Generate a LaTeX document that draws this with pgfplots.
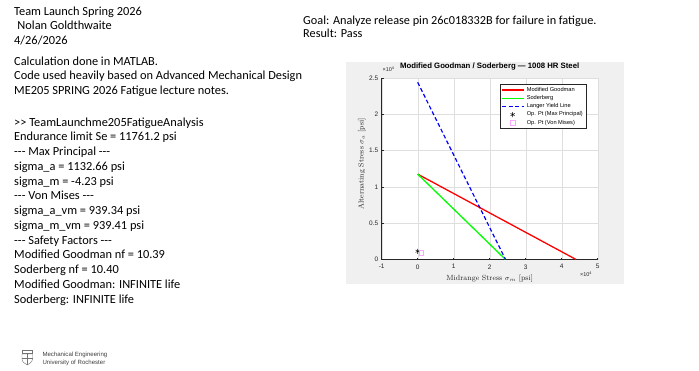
\documentclass[border=0pt]{standalone}
\usepackage{pgfplots}
\pgfplotsset{compat=1.18}
\usepackage{fontspec}
\newfontfamily\carlito{Carlito}
\newfontfamily\arial{Liberation Sans}
\definecolor{mgreen}{rgb}{0,1,0}
\definecolor{figbg}{rgb}{0.94,0.94,0.94}
\definecolor{axgray}{rgb}{0.15,0.15,0.15}
\definecolor{ptpink}{rgb}{1,0.65,1}
\pgfplotsset{
  lineleg/.style={legend image code/.code={\draw[##1] (0bp,0bp) -- (22bp,0bp);}},
  markleg/.style={legend image code/.code={\draw[mark repeat=2,mark phase=2,##1] plot coordinates {(0bp,0bp)(10.5bp,0bp)(21bp,0bp)};}},
}
\begin{document}
\begin{tikzpicture}
\path[fill=white,use as bounding box] (0,0) rectangle (699bp,-371bp);
% ---- slide text ----
\begin{scope}[every node/.style={anchor=base west,inner sep=0pt,font=\carlito\fontsize{12.4}{14}\selectfont}]
\node at (14bp,-15bp) {Team Launch Spring 2026};
\node at (17.3bp,-29.6bp) {Nolan Goldthwaite};
\node at (14bp,-44.2bp) {4/26/2026};
\node at (14bp,-65bp) {Calculation done in MATLAB.};
\node at (14bp,-79.7bp) {Code used heavily based on Advanced Mechanical Design};
\node at (14bp,-94.3bp) {ME205 SPRING 2026 Fatigue lecture notes.};
\node at (14bp,-126bp) {>> TeamLaunchme205FatigueAnalysis};
\node at (14bp,-140.75bp) {Endurance limit Se = 11761.2 psi};
\node at (14bp,-155.5bp) {-{}-{}- Max Principal -{}-{}-};
\node at (14bp,-170.25bp) {sigma\_a = 1132.66 psi};
\node at (14bp,-185bp) {sigma\_m = -4.23 psi};
\node at (14bp,-199.75bp) {-{}-{}- Von Mises -{}-{}-};
\node at (14bp,-214.5bp) {sigma\_a\_vm = 939.34 psi};
\node at (14bp,-229.25bp) {sigma\_m\_vm = 939.41 psi};
\node at (14bp,-244bp) {-{}-{}- Safety Factors -{}-{}-};
\node at (14bp,-258.75bp) {Modified Goodman nf = 10.39};
\node at (14bp,-273.5bp) {Soderberg nf = 10.40};
\node at (14bp,-288.25bp) {Modified Goodman: INFINITE life};
\node at (14bp,-303bp) {Soderberg: INFINITE life};
\end{scope}
\begin{scope}[every node/.style={anchor=base west,inner sep=0pt,font=\carlito\fontsize{12.3}{13}\selectfont}]
\node at (303bp,-24bp) {Goal: Analyze release pin 26c018332B for failure in fatigue.};
\node at (303bp,-37.8bp) {Result: Pass};
\end{scope}
% ---- logo ----
\begin{scope}[draw=black!55,line width=0.4bp]
\draw (22bp,-350bp) rectangle (32.5bp,-353bp);
\draw (22bp,-354bp) -- (32.5bp,-354bp) -- (32.5bp,-359bp) .. controls (32.5bp,-362bp) and (29bp,-364bp) .. (27.25bp,-365bp) .. controls (25.5bp,-364bp) and (22bp,-362bp) .. (22bp,-359bp) -- cycle;
\draw (27.25bp,-354bp) -- (27.25bp,-365bp);
\draw (22bp,-358.5bp) -- (32.5bp,-358.5bp);
\end{scope}
\node[anchor=base west,inner sep=0pt,font=\arial\fontsize{6.1}{7}\selectfont,text=black!75] at (42.3bp,-356.5bp) {Mechanical Engineering};
\node[anchor=base west,inner sep=0pt,font=\arial\fontsize{6.1}{7}\selectfont,text=black!75] at (42.3bp,-364bp) {University of Rochester};
% ---- figure background ----
\fill[figbg] (346bp,-62bp) rectangle (624bp,-284bp);
% ---- chart ----
\begin{axis}[
  at={(381.7bp,-259.5bp)}, anchor=south west,
  scale only axis, width=216bp, height=181.5bp,
  axis background/.style={fill=white},
  xmin=-10000, xmax=50000, ymin=0, ymax=25000,
  xtick={-10000,0,10000,20000,30000,40000,50000},
  xticklabels={-1,0,1,2,3,4,5},
  ytick={0,5000,10000,15000,20000,25000},
  yticklabels={0,0.5,1,1.5,2,2.5},
  scaled ticks=false,
  axis lines=left, axis line style={-,draw=axgray,line width=0.5bp},
  tick align=inside, major tick length=2bp, tick style={axgray,line width=0.5bp},
  grid=major, grid style={black!13,line width=0.4bp},
  tick label style={font=\arial\fontsize{6.5}{7}\selectfont,text=axgray},
  xticklabel style={yshift=-1.5bp},
  title={Modified Goodman / Soderberg — 1008 HR Steel},
  title style={at={(axis description cs:0.5,1)},anchor=base,yshift=4bp,font=\arial\bfseries\fontsize{7.8}{8}\selectfont,text=black},
  xlabel={Midrange Stress $\sigma_m$ [psi]},
  every axis x label/.style={at={(axis description cs:0.5,0)},anchor=base,yshift=-20.5bp,font=\fontsize{7.5}{8}\selectfont,text=axgray},
  ylabel={Alternating Stress $\sigma_a$ [psi]},
  every axis y label/.style={at={(axis description cs:-0.0926,0.526)},anchor=center,rotate=90,font=\fontsize{7.5}{8}\selectfont,text=axgray},
  legend style={at={(rel axis cs:0.946,0.967)},anchor=north east,
    font=\arial\fontsize{5.7}{6}\selectfont, draw=axgray, line width=0.4bp,
    inner sep=1bp, row sep=-1.4bp, cells={anchor=west}, fill=white},
  clip=false,
]
\addplot[red,line width=1.3bp,lineleg] coordinates {(0,11761.2) (44000,0)};
\addlegendentry{Modified Goodman}
\addplot[mgreen,line width=1.3bp,lineleg] coordinates {(0,11761.2) (24400,0)};
\addlegendentry{Soderberg}
\addplot[blue,line width=1.2bp,dash pattern=on 4bp off 2.5bp,lineleg] coordinates {(0,24400) (24400,0)};
\addlegendentry{Langer Yield Line}
\addplot[only marks,mark=asterisk,mark size=2.5bp,black,line width=0.4bp,markleg] coordinates {(-4.23,1132.66)};
\addlegendentry{Op. Pt (Max Principal)}
\addplot[only marks,mark=square,mark size=2.2bp,ptpink,line width=0.4bp,markleg] coordinates {(939.41,939.34)};
\addlegendentry{Op. Pt (Von Mises)}
\node[anchor=base west,inner sep=0pt,font=\arial\fontsize{5.5}{6}\selectfont,text=axgray] at (rel axis cs:0.003,1.0) [yshift=6.3bp] {×10\textsuperscript{4}};
\node[anchor=base west,inner sep=0pt,font=\arial\fontsize{5.5}{6}\selectfont,text=axgray] at (rel axis cs:0.9176,0) [yshift=-17bp] {×10\textsuperscript{4}};
\end{axis}
\end{tikzpicture}
\end{document}
